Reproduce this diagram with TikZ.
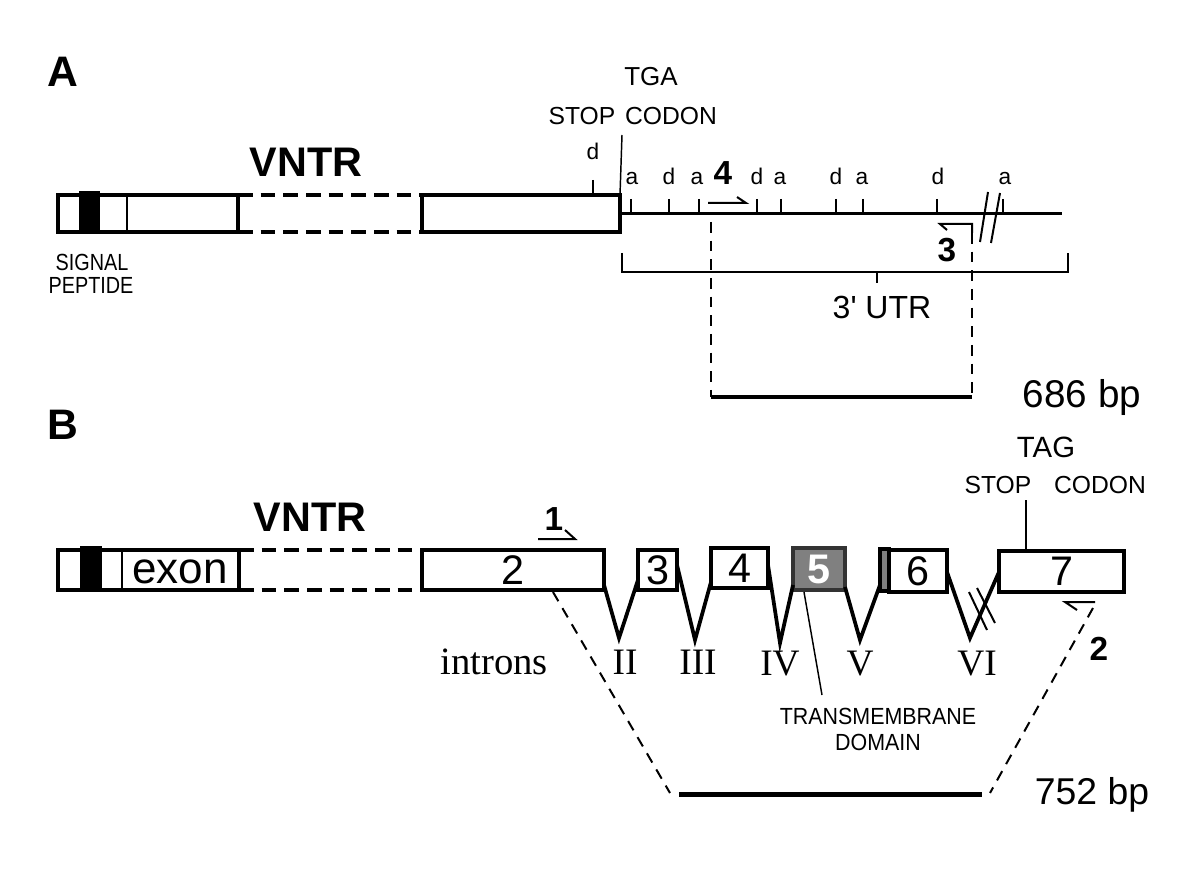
\documentclass[tikz,border=0pt]{standalone}
\usepackage{fontspec}
\setmainfont{Liberation Sans}
\newfontfamily\tmsfont{Liberation Serif}
\usetikzlibrary{fit}
\newcommand\fs[1]{\fontsize{#1}{#1}\selectfont}
\begin{document}
\begin{tikzpicture}[x=0.75pt,y=-0.75pt,
  box/.style={draw, line width=3pt, inner sep=0pt, outer sep=0pt},
  blk/.style={fill=black, inner sep=0pt, outer sep=0pt},
  dashbox/.style={line width=3pt, dash pattern=on 11pt off 6pt},
  dsh/.style={line width=1.5pt, dash pattern=on 8pt off 6pt},
  tick/.style={line width=1.1pt},
  thinl/.style={line width=1.1pt},
  primer/.style={line width=1.5pt},
  intron/.style={line width=2.8pt, line join=miter},
  panel/.style={font=\bfseries\fs{32}, inner sep=0pt},
  vntr/.style={font=\bfseries\fs{31}, inner sep=0pt},
  site/.style={font=\fs{17}, inner sep=0pt, anchor=base},
  pnum/.style={font=\bfseries\fs{25}, inner sep=0pt},
  small/.style={font=\fs{17.5}, xscale=0.85, inner sep=0pt},
  stopl/.style={font=\fs{18.5}, inner sep=0pt},
  exnum/.style={font=\fs{31}, inner sep=0pt},
  roman/.style={font=\tmsfont\fs{28}, inner sep=0pt},
  bp/.style={font=\fs{29}, inner sep=0pt}]
\useasboundingbox[fill=white] (0,0) rectangle (1197,884);

%%%%%%%%%%%%%%%% PANEL A %%%%%%%%%%%%%%%%
\node[panel] (lA) at (63,72) {A};
\node[box, fit={(58,195) (238,232)}] (a1) {};
\node[blk, fit={(79,191) (100,233)}] (a1sp) {};
\draw[line width=2pt] (127,195) -- (127,232);
\node[box, fit={(422,195) (620,232)}] (a2) {};
\draw[dashbox] (a1.north east) -- (a2.north west);
\draw[dashbox] (a1.south east) -- (a2.south west);
\node[vntr] (vA) at (306,162) {VNTR};
\node[small] (sig1) at (92,262) {SIGNAL};
\node[small] (sig2) at (91,285) {PEPTIDE};

\coordinate (utrend) at (1062,213.5);
\draw[line width=2.25pt] (a2.east) -- (utrend);

% stop codon
\coordinate (stopA) at (622,135);
\draw[thinl] (stopA) -- (a2.north east);
\node[font=\fs{19.5}, inner sep=0pt] (tga) at (651,77) {TGA};
\node[stopl] (stA) at (582,116) {STOP};
\node[stopl] (coA) at (671,116) {CODON};

% sites
\draw[tick] (593,180) -- (593,195);
\node[site] (dup) at (593,160) {d};
\foreach \x/\l/\lx in {631/a/632,669/d/669,699/a/697,757/d/757,781/a/780,836/d/836,863/a/862,937/d/938,1003/a/1005}{
  \draw[tick] (\x,199) -- (\x,213.5);
  \node[site] at (\lx,185) {\l};
}

% primer 4
\draw[primer] (708,203) -- (746,203) -- (737,197);
\node[pnum] (p4) at (723,173) {4};
% primer 3
\draw[primer] (947,230) -- (940,224) -- (972,224) -- (972,233);
\node[pnum] (p3) at (947,250) {3};
% break
\draw[line width=1.5pt] (988,192) -- (980,242);
\draw[line width=1.5pt] (1000,193) -- (991,243);

% 3' UTR bracket
\draw[line width=1.5pt] (622,253) -- (622,272) -- (1068,272) -- (1068,253);
\draw[line width=1.5pt] (877,272) -- (877,283);
\node[font=\fs{24}, inner sep=0pt] (utr) at (882,307) {3\textquotesingle{} UTR};

% product A
\coordinate (pa1) at (711,222);
\coordinate (pa2) at (711,397);
\coordinate (pa3) at (972,233);
\coordinate (pa4) at (972,397);
\draw[dsh] (pa1) -- (pa2);
\draw[dsh] (pa3) -- (pa4);
\draw[line width=3pt] (pa2) -- (pa4);
\node[bp] (bpA) at (1082,398) {686 bp};

%%%%%%%%%%%%%%%% PANEL B %%%%%%%%%%%%%%%%
\node[panel] (lB) at (63,425) {B};
\node[box, fit={(58,550) (239,590)}] (b1) {};
\node[blk, fit={(80,546) (102,591)}] (b1sp) {};
\draw[line width=2pt] (122,550) -- (122,590);
\node[font=\fs{33}, inner sep=0pt] (exon) at (180,572) {exon};
\node[box, fit={(422,550) (604,590)}] (b2) {};
\draw[dashbox] (b1.north east) -- (b2.north west);
\draw[dashbox] (b1.south east) -- (b2.south west);
\node[vntr] (vB) at (310,517) {VNTR};

\node[box, fit={(638,550) (677,590)}] (b3) {};
\node[box, fit={(711,548) (768,588)}] (b4) {};
\node[box, fit={(793,548) (845,590)}, fill=black!50, draw=black!80] (b5) {};
\node[box, fit={(880,549) (889,591)}, fill=black!50] (strip) {};
\node[box, fit={(889,550) (947,592)}] (b6) {};
\node[box, fit={(999,551) (1124,592)}] (b7) {};
\node[exnum] at (b2.center) {2};
\node[exnum] at (b3.center) {3};
\node[exnum] at (b4.center) {4};
\node[font=\bfseries\fs{31}, text=white, inner sep=0pt] at (b5.center) {5};
\node[exnum] at (b6.center) {6};
\node[exnum] at (b7.center) {7};

% stop codon B
\coordinate (stopB) at (1026,500);
\draw[thinl] (stopB) -- (stopB |- b7.north);
\node[font=\fs{22}, inner sep=0pt] (tag) at (1046,447) {TAG};
\node[stopl] (stB) at (998,485) {STOP};
\node[stopl] (coB) at (1100,485) {CODON};

% introns
\draw[intron] (604,585) -- (619,638) -- (638,580);
\draw[intron] (677,565) -- (695,640) -- (711,582);
\draw[intron] (768,565) -- (780,643) -- (793,585);
\draw[intron] (845,587) -- (860,640) -- (880,585);
\draw[intron] (947,572) -- (970,638) -- (999,572);
\draw[line width=1.5pt] (969,592) -- (987,630);
\draw[line width=1.5pt] (977,588) -- (995,623);
\node[roman] at (625,662) {II};
\node[roman] at (698,662) {III};
\node[roman] at (780,664) {IV};
\node[roman] at (860,664) {V};
\node[roman] at (977,664) {VI};
\node[font=\tmsfont\fs{29}, inner sep=0pt] (introns) at (494,662) {introns};

% transmembrane
\coordinate (tm) at (822,695);
\draw[thinl] (804,592) -- (tm);
\node[small, xscale=1.08] (tm1) at (878,716) {TRANSMEMBRANE};
\node[small, xscale=1.08] (tm2) at (878,742) {DOMAIN};

% primers
\draw[primer] (538,539) -- (575,539) -- (565,530);
\node[pnum] (p1) at (554,519) {1};
\draw[primer] (1077,610) -- (1065,602) -- (1095,602);
\node[pnum] (p2) at (1099,649) {2};

% product B
\coordinate (q1) at (553,592);
\coordinate (q2) at (670,793);
\coordinate (q3) at (1093,608);
\coordinate (q4) at (990,793);
\draw[dsh] (q1) -- (q2);
\draw[dsh] (q3) -- (q4);
\draw[line width=3.75pt] (679,794) -- (982,794);
\node[bp, font=\fs{28}] (bpB) at (1092,795) {752 bp};
\end{tikzpicture}
\end{document}
